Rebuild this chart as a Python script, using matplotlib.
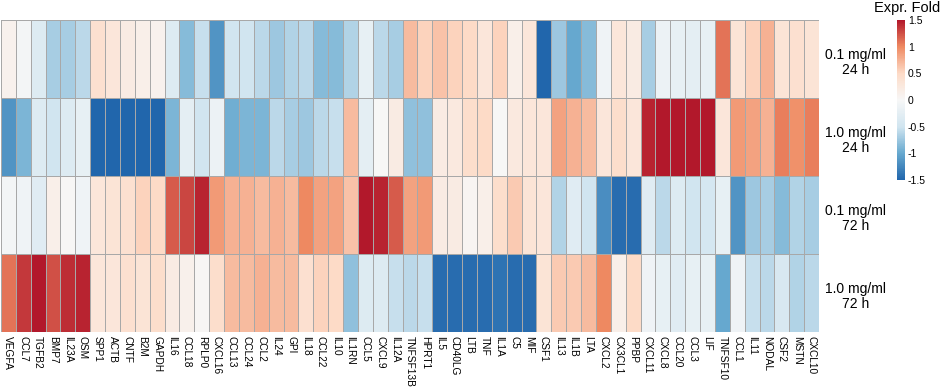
import numpy as np
import matplotlib
matplotlib.use("Agg")
import matplotlib.pyplot as plt
from matplotlib.colors import LinearSegmentedColormap

plt.rcParams['font.family'] = ['Liberation Sans', 'DejaVu Sans']

genes = ["VEGFA", "CCL7", "TGFB2", "BMP7", "IL23A", "OSM", "SPP1", "ACTB", "CNTF", "B2M",
         "GAPDH", "IL16", "CCL18", "RPLP0", "CXCL16", "CCL13", "CCL24", "CCL2", "IL24", "GPI",
         "IL18", "CCL22", "IL10", "IL1RN", "CCL5", "CXCL9", "IL12A", "TNFSF13B", "HPRT1", "IL5",
         "CD40LG", "LTB", "TNF", "IL1A", "C5", "MIF", "CSF1", "IL13", "IL1B", "LTA",
         "CXCL2", "CX3CL1", "PPBP", "CXCL11", "CXCL8", "CCL20", "CCL3", "LIF", "TNFSF10", "CCL1",
         "IL11", "NODAL", "CSF2", "MSTN", "CXCL10"]

conditions = ["0.1 mg/ml\n24 h", "1.0 mg/ml\n24 h", "0.1 mg/ml\n72 h", "1.0 mg/ml\n72 h"]

low_24h = [0.1, -0.05, -0.35, -0.7, -0.7, -0.6, 0.4, 0.3, 0.2, 0.15,
           0.1, -0.35, -0.85, -0.55, -1.15, -0.5, -0.5, -0.6, -0.75, -0.65,
           -0.6, -0.85, -0.85, -0.65, -0.2, -0.6, -0.7, 0.7, 0.55, 0.65,
           0.55, 0.5, 0.3, 0.55, 0.15, 0.3, -1.5, -0.75, -1.0, -0.85,
           -0.1, 0.3, 0.2, -0.7, -0.15, -0.2, -0.25, -0.2, 1.1, 0.35,
           0.55, 0.75, 0.35, 0.4, 0.35]

high_24h = [-1.15, -0.9, -0.35, -0.5, -0.35, -0.2, -1.5, -1.5, -1.5, -1.5,
            -1.5, -0.9, -0.25, -0.5, -0.15, -0.95, -0.9, -0.9, -0.6, -0.7,
            -0.75, -0.6, -0.55, 0.7, -0.25, 0.0, 0.2, -0.8, -0.8, 0.2,
            0.25, 0.45, 0.5, 0.0, 0.25, 0.3, 0.3, 0.85, 0.75, 0.7,
            0.3, 0.45, 0.3, 1.45, 1.5, 1.5, 1.5, 1.5, 0.3, 0.9,
            0.85, 0.75, 1.05, 0.95, 1.05]

low_72h = [-0.05, -0.1, -0.3, 0.15, 0.02, -0.1, 0.3, 0.35, 0.4, 0.55,
           0.5, 1.2, 1.3, 1.45, 0.9, 0.75, 0.75, 0.7, 0.75, 0.7,
           1.0, 0.85, 0.85, 0.65, 1.5, 1.45, 1.2, 0.85, 0.9, 0.2,
           0.2, 0.05, 0.15, 0.45, 0.6, 0.35, 0.3, -0.65, -0.3, -0.5,
           -1.2, -1.45, -1.45, -0.3, -0.6, -0.35, -0.5, -0.45, -0.2, -1.15,
           -0.75, -0.7, -0.85, -0.65, -0.7]

high_72h = [1.1, 1.35, 1.5, 1.25, 1.4, 1.45, 0.3, 0.3, 0.4, 0.35,
            0.45, 0.2, 0.12, 0.03, 0.45, 0.7, 0.7, 0.75, 0.7, 0.7,
            0.4, 0.55, 0.5, -0.8, -0.35, -0.35, -0.55, -0.6, -0.55, -1.45,
            -1.45, -1.45, -1.45, -1.4, -1.45, -1.45, 0.35, 0.6, 0.6, 0.7,
            1.0, 0.15, 0.5, -0.1, -0.2, -0.3, -0.2, -0.2, -1.0, -0.1,
            -0.55, -0.6, -0.4, -0.65, -0.6]

cbar_ticks = [-1.5, -1, -0.5, 0, 0.5, 1, 1.5]

data = np.array([low_24h, high_24h, low_72h, high_72h])

cmap = LinearSegmentedColormap.from_list(
    "rdbu7", ["#2166AC", "#67A9CF", "#D1E5F0", "#F7F7F7", "#FDDBC7", "#EF8A62", "#B2182B"])

fig = plt.figure(figsize=(9.41, 3.89), dpi=100)
ax = fig.add_axes([1/941, 1 - 332/389, 818/941, 312/389])
mesh = ax.pcolormesh(data, cmap=cmap, vmin=-1.5, vmax=1.5,
                     edgecolors="#a8a8a8", linewidth=0.6)
ax.set_xlim(0, data.shape[1])
ax.set_ylim(data.shape[0], 0)
ax.set_xticks(np.arange(data.shape[1]) + 0.5)
ax.set_xticklabels(genes, rotation=-90, fontsize=7.3, va="top", ha="center")
ax.tick_params(axis="x", length=0, pad=3)
ax.set_yticks([])
for s in ax.spines.values():
    s.set_visible(False)

# row labels on the right
for i, lab in enumerate(conditions):
    ax.text(data.shape[1] + 2.45, i + 0.55, lab, ha="center", va="center",
            fontsize=10, linespacing=1.1)

cax = fig.add_axes([897/941, 1 - 180/389, 8/941, 160/389])
cb = fig.colorbar(mesh, cax=cax, ticks=cbar_ticks)
cb.outline.set_visible(False)
cb.ax.tick_params(length=0, labelsize=7.5, pad=2)
cb.ax.set_yticklabels(["-1.5", "-1", "-0.5", "0", "0.5", "1", "1.5"])
fig.text(907/941, 1 - 8/389, "Expr. Fold", ha="center", va="center", fontsize=10.5)

fig.savefig("out.png", dpi=100)
